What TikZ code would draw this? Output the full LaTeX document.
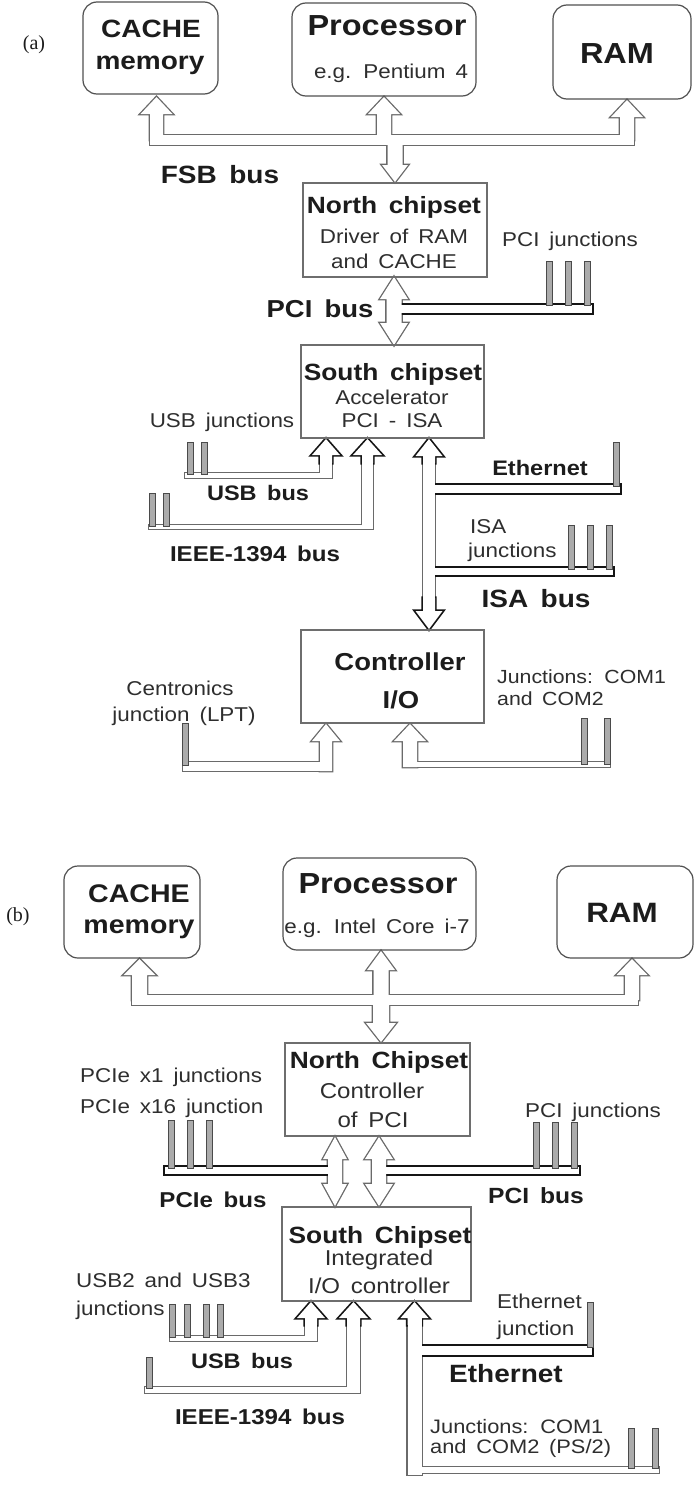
\documentclass[tikz,border=0pt]{standalone}
\usepackage{fontspec}
\setmainfont{Liberation Sans}[FakeStretch=1.12,WordSpace=1.6]
\newfontfamily\labelserif{Liberation Serif}
\definecolor{boxc}{HTML}{6E6E6E}
\definecolor{rboxc}{HTML}{505050}
\definecolor{gline}{HTML}{6A6A6A}
\definecolor{dline}{HTML}{151515}
\definecolor{pinf}{HTML}{ABABAB}
\definecolor{pind}{HTML}{4A4A4A}
\definecolor{txt}{HTML}{1C1C1C}
\definecolor{txtr}{HTML}{2E2E2E}
\newcommand\fs[1]{\fontsize{#1}{#1}\selectfont}
% up arrow: x, tip y, bottom y, shaft half, head half, head length, style
\newcommand\uarr[7]{\path[#7] ({#1},{#2}) -- ({#1+#5},{#2+#6}) -- ({#1+#4},{#2+#6}) -- ({#1+#4},{#3}) -- ({#1-#4},{#3}) -- ({#1-#4},{#2+#6}) -- ({#1-#5},{#2+#6}) -- cycle;}
% down arrow: x, tip y, top y, ...
\newcommand\darr[7]{\path[#7] ({#1},{#2}) -- ({#1+#5},{#2-#6}) -- ({#1+#4},{#2-#6}) -- ({#1+#4},{#3}) -- ({#1-#4},{#3}) -- ({#1-#4},{#2-#6}) -- ({#1-#5},{#2-#6}) -- cycle;}
% double arrow: x, top tip, bottom tip, ...
\newcommand\udarr[7]{\path[#7] ({#1},{#2}) -- ({#1+#5},{#2+#6}) -- ({#1+#4},{#2+#6}) -- ({#1+#4},{#3-#6}) -- ({#1+#5},{#3-#6}) -- ({#1},{#3}) -- ({#1-#5},{#3-#6}) -- ({#1-#4},{#3-#6}) -- ({#1-#4},{#2+#6}) -- ({#1-#5},{#2+#6}) -- cycle;}
\newcommand\barr[5]{\path[#5] (#1,#2) rectangle (#3,#4);}
\newcommand\jpin[3]{\path[pinst] ({#1-3},#2) rectangle ({#1+3},#3);}
\newcommand\connectors[1]{%
 % ---- (a) gray
 \barr{150}{135}{634}{145}{g#1}
 \uarr{156.5}{97}{140}{6.5}{16}{17}{g#1}
 \uarr{384}{97}{140}{7}{16}{17}{g#1}
 \uarr{627}{100}{140}{7}{16}{17}{g#1}
 \darr{395}{182}{140}{7.5}{13}{17}{g#1}
 \udarr{394}{277}{345}{7.5}{14}{22}{g#1}
 \barr{320}{455}{332}{478}{g#1}
 \barr{185}{473}{332}{478}{g#1}
 \barr{362}{455}{373}{529}{g#1}
 \barr{149}{525}{373}{529}{g#1}
 \barr{423}{455}{435}{606}{g#1}
 \uarr{326}{724}{771}{6}{14}{17}{g#1}
 \barr{183}{762}{332}{771}{g#1}
 \uarr{410}{724}{767}{7}{16}{17}{g#1}
 \barr{403}{762}{610}{767}{g#1}
 % ---- (b) gray
 \barr{132}{995}{638}{1005}{g#1}
 \uarr{139.5}{959}{1000}{7.5}{16}{16}{g#1}
 \uarr{381}{951}{1000}{7.5}{14}{19}{g#1}
 \uarr{632}{959}{1000}{7}{15.5}{16}{g#1}
 \darr{381}{1042}{1000}{8}{15}{19}{g#1}
 \udarr{335}{1137}{1206}{7}{12}{22}{g#1}
 \udarr{379}{1137}{1206}{7}{14}{22}{g#1}
 \barr{305}{1318}{317}{1341}{g#1}
 \barr{170}{1336}{317}{1341}{g#1}
 \barr{347}{1318}{360}{1393}{g#1}
 \barr{145}{1387}{360}{1393}{g#1}
 \barr{407.5}{1318}{421.5}{1475}{g#1}
 \barr{414}{1467}{659}{1473}{g#1}
 % ---- dark arrows
 \uarr{326}{439}{463}{6}{14}{16}{d#1}
 \uarr{367.5}{439}{463}{5.5}{14.5}{16}{d#1}
 \uarr{429}{439}{463}{6}{13.5}{17}{d#1}
 \darr{429}{629}{598}{6}{13.5}{18}{d#1}
 \uarr{311}{1302}{1325}{6}{14}{16}{d#1}
 \uarr{353.5}{1302}{1325}{6.5}{14.5}{16}{d#1}
 \uarr{414.5}{1302}{1325}{7}{14}{16}{d#1}
 % ---- dark bars
 \barr{394}{305}{592}{313}{b#1}
 \barr{429}{485}{620}{493}{b#1}
 \barr{429}{568}{613}{575}{d#1}
 \barr{165}{1167}{335}{1174}{b#1}
 \barr{379}{1167}{579}{1174}{b#1}
 \barr{414}{1346}{592}{1355}{b#1}
}
\begin{document}
\begin{tikzpicture}[x=1pt,y=-1pt,
  gS/.style={draw=gline,line width=2.6pt},
  gF/.style={fill=white},
  dS/.style={draw=dline,line width=3.4pt},
  dF/.style={fill=white},
  bS/.style={draw=dline,line width=4.4pt},
  bF/.style={fill=white},
  pinst/.style={fill=pinf,draw=pind,line width=0.8pt},
  sqbox/.style={draw=boxc,line width=1.2pt,inner sep=0pt},
  rbox/.style={draw=rboxc,line width=1.2pt,rounded corners=14pt,inner sep=0pt},
  lbl/.style={inner sep=0pt,anchor=base,text=txt},
  rl/.style={inner sep=0pt,anchor=base,text=txtr,font=\fs{20}},
  rlw/.style={rl,anchor=base west}]
\useasboundingbox[fill=white] (0,0) rectangle (695,1499);
\connectors{S}
\connectors{F}
% ---- pins (a)
\jpin{549}{261}{305}\jpin{568}{261}{305}\jpin{587}{261}{305}
\jpin{190}{442}{474}\jpin{204}{442}{474}
\jpin{152.5}{493}{526}\jpin{166.5}{493}{526}
\jpin{616}{442}{486}
\jpin{571.5}{525}{569}\jpin{590}{525}{569}\jpin{609}{525}{569}
\jpin{185}{723}{765}
\jpin{584}{718}{764}\jpin{607}{718}{764}
% ---- pins (b)
\jpin{171.5}{1120}{1168}\jpin{190.5}{1120}{1168}\jpin{209.5}{1120}{1168}
\jpin{536}{1122}{1168}\jpin{555.5}{1122}{1168}\jpin{574.5}{1122}{1168}
\jpin{172}{1304}{1337}\jpin{187}{1304}{1337}\jpin{206}{1304}{1337}\jpin{220}{1304}{1337}
\jpin{149}{1357}{1388}
\jpin{590}{1302}{1347}
\jpin{631}{1428}{1468}\jpin{655}{1428}{1468}
% ---- boxes (a)
\node[rbox,minimum width=135pt,minimum height=92pt] (cacheA) at (150.5,48) {};
\node[rbox,minimum width=184pt,minimum height=93pt] (procA) at (384,49.5) {};
\node[rbox,minimum width=138pt,minimum height=94pt] (ramA) at (622,52) {};
\node[sqbox,minimum width=184pt,minimum height=94pt] (northA) at (395,230) {};
\node[sqbox,minimum width=183pt,minimum height=93pt] (southA) at (392.5,391.5) {};
\node[sqbox,minimum width=183pt,minimum height=93pt] (ctrlA) at (392.5,676.5) {};
% ---- boxes (b)
\node[rbox,minimum width=136pt,minimum height=92pt] (cacheB) at (132,912) {};
\node[rbox,minimum width=193pt,minimum height=92pt] (procB) at (379.5,904) {};
\node[rbox,minimum width=136pt,minimum height=92pt] (ramB) at (625,912) {};
\node[sqbox,minimum width=185pt,minimum height=93pt] (northB) at (377.5,1089.5) {};
\node[sqbox,minimum width=189pt,minimum height=94pt] (southB) at (376.5,1254) {};
% ---- texts (a)
\node[lbl,font=\labelserif\fs{20}] (la) at (34,49) {(a)};
\node[lbl,font=\bfseries\fs{25}] (tca1) at (151,37) {CACHE};
\node[lbl,font=\bfseries\fs{25}] (tca2) at (150,69) {memory};
\node[lbl,font=\bfseries\fs{29}] (tpa1) at (387,35) {Processor};
\node[rl] (tpa2) at (391,78) {e.g. Pentium 4};
\node[lbl,font=\bfseries\fs{29}] (tra) at (617,63) {RAM};
\node[lbl,font=\bfseries\fs{25}] (tfsb) at (220,183) {FSB bus};
\node[lbl,font=\bfseries\fs{23.5}] (tna1) at (394,213) {North chipset};
\node[rl] (tna2) at (394,243) {Driver of RAM};
\node[rl] (tna3) at (394,268) {and CACHE};
\node[rl] (tpcij) at (570,246) {PCI junctions};
\node[lbl,font=\bfseries\fs{24.5}] (tpcib) at (320,317) {PCI bus};
\node[lbl,font=\bfseries\fs{23.5}] (tsa1) at (393,380) {South chipset};
\node[rl] (tsa2) at (392,404) {Accelerator};
\node[rl] (tsa3) at (392,427) {PCI - ISA};
\node[rl] (tusbj) at (222,427) {USB junctions};
\node[lbl,font=\bfseries\fs{21}] (teth) at (540,475) {Ethernet};
\node[lbl,font=\bfseries\fs{21}] (tusbb) at (258,500) {USB bus};
\node[rlw] (tisaj1) at (470,533) {ISA};
\node[rlw] (tisaj2) at (468,557) {junctions};
\node[lbl,font=\bfseries\fs{21.5}] (tieee) at (255,561) {IEEE-1394 bus};
\node[lbl,font=\bfseries\fs{25}] (tisab) at (536,607) {ISA bus};
\node[lbl,font=\bfseries\fs{24.5}] (tct1) at (400,670) {Controller};
\node[lbl,font=\bfseries\fs{24.5}] (tct2) at (401,708) {I/O};
\node[rlw,font=\fs{19}] (tcom1) at (497,683) {Junctions: COM1};
\node[rlw,font=\fs{19}] (tcom2) at (497,705) {and COM2};
\node[rl] (tlpt1) at (180,695) {Centronics};
\node[rl] (tlpt2) at (184,721) {junction (LPT)};
% ---- texts (b)
\node[lbl,font=\labelserif\fs{20}] (lb) at (18,921) {(b)};
\node[lbl,font=\bfseries\fs{25.5}] (tcb1) at (139,902) {CACHE};
\node[lbl,font=\bfseries\fs{25.5}] (tcb2) at (139,933) {memory};
\node[lbl,font=\bfseries\fs{29}] (tpb1) at (378,893) {Processor};
\node[rl] (tpb2) at (377,933) {e.g. Intel Core i-7};
\node[lbl,font=\bfseries\fs{28}] (trb) at (622,922) {RAM};
\node[lbl,font=\bfseries\fs{23.5}] (tnb1) at (379,1068) {North Chipset};
\node[rl,font=\fs{21.5}] (tnb2) at (372,1098) {Controller};
\node[rl,font=\fs{21.5}] (tnb3) at (373,1127) {of PCI};
\node[rlw] (tpciex1) at (80,1082) {PCIe x1 junctions};
\node[rlw] (tpciex16) at (80,1113) {PCIe x16 junction};
\node[rlw] (tpcijb) at (525,1117) {PCI junctions};
\node[lbl,font=\bfseries\fs{21.5}] (tpcieb) at (213,1207) {PCIe bus};
\node[lbl,font=\bfseries\fs{22}] (tpcibb) at (536,1203) {PCI bus};
\node[lbl,font=\bfseries\fs{23.5}] (tsb1) at (380,1243) {South Chipset};
\node[rl,font=\fs{21.5}] (tsb2) at (379,1265) {Integrated};
\node[rl,font=\fs{21.5}] (tsb3) at (379,1293) {I/O controller};
\node[rlw] (tusbjb1) at (76,1287) {USB2 and USB3};
\node[rlw] (tusbjb2) at (76,1315) {junctions};
\node[rlw] (tethj1) at (497,1308) {Ethernet};
\node[rlw] (tethj2) at (497,1335) {junction};
\node[lbl,font=\bfseries\fs{25}] (tethb) at (506,1382) {Ethernet};
\node[lbl,font=\bfseries\fs{21}] (tusbbb) at (242,1368) {USB bus};
\node[lbl,font=\bfseries\fs{21.5}] (tieeeb) at (260,1424) {IEEE-1394 bus};
\node[rlw,font=\fs{19.5}] (tcomb1) at (430,1433) {Junctions: COM1};
\node[rlw,font=\fs{19.5}] (tcomb2) at (430,1453) {and COM2 (PS/2)};
\end{tikzpicture}
\end{document}
